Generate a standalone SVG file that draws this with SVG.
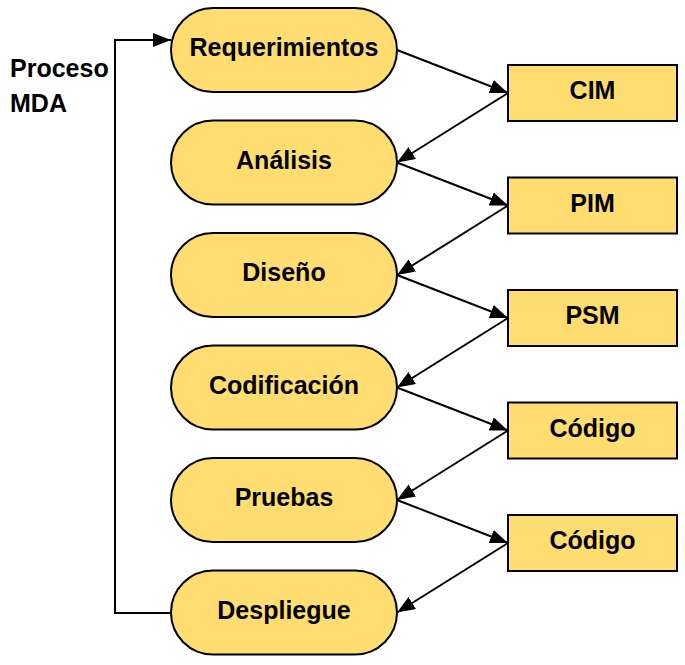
<svg xmlns="http://www.w3.org/2000/svg" width="685" height="665" viewBox="0 0 685 665">
<defs>
<style>
.st{fill:#ffdd71;stroke:#000;stroke-width:2}
.t{font-family:"Liberation Sans",Arial,sans-serif;font-weight:bold;font-size:25px;fill:#000;text-anchor:middle}
.lbl{font-family:"Liberation Sans",Arial,sans-serif;font-weight:bold;font-size:25px;fill:#000}
.c{fill:none;stroke:#000;stroke-width:2}
</style>
<marker id="ah" markerUnits="userSpaceOnUse" markerWidth="20" markerHeight="16" refX="18" refY="7" orient="auto">
<path d="M0,0 L18,7 L0,14 z" fill="#000"/>
</marker>
</defs>
<rect width="685" height="665" fill="#fff"/>
<text class="lbl" x="10" y="77">Proceso</text>
<text class="lbl" x="10" y="112">MDA</text>
<g id="connectors">
<path class="c" d="M171,613 H115 V40 H171" marker-end="url(#ah)"/>
<line class="c" x1="397" y1="50" x2="508" y2="93" marker-end="url(#ah)"/>
<line class="c" x1="508" y1="93" x2="397" y2="162.5" marker-end="url(#ah)"/>
<line class="c" x1="397" y1="162.5" x2="508" y2="205.5" marker-end="url(#ah)"/>
<line class="c" x1="508" y1="205.5" x2="397" y2="275" marker-end="url(#ah)"/>
<line class="c" x1="397" y1="275" x2="508" y2="318" marker-end="url(#ah)"/>
<line class="c" x1="508" y1="318" x2="397" y2="387.5" marker-end="url(#ah)"/>
<line class="c" x1="397" y1="387.5" x2="508" y2="430.5" marker-end="url(#ah)"/>
<line class="c" x1="508" y1="430.5" x2="397" y2="500" marker-end="url(#ah)"/>
<line class="c" x1="397" y1="500" x2="508" y2="543" marker-end="url(#ah)"/>
<line class="c" x1="508" y1="543" x2="397" y2="612.5" marker-end="url(#ah)"/>
</g>
<g id="n-requerimientos"><rect class="st" x="171" y="8" width="226" height="84" rx="42"/><text class="t" x="284" y="56">Requerimientos</text></g>
<g id="n-analisis"><rect class="st" x="171" y="120.5" width="226" height="84" rx="42"/><text class="t" x="284" y="168.5">Análisis</text></g>
<g id="n-diseno"><rect class="st" x="171" y="233" width="226" height="84" rx="42"/><text class="t" x="284" y="281">Diseño</text></g>
<g id="n-codificacion"><rect class="st" x="171" y="345.5" width="226" height="84" rx="42"/><text class="t" x="284" y="393.5">Codificación</text></g>
<g id="n-pruebas"><rect class="st" x="171" y="458" width="226" height="84" rx="42"/><text class="t" x="284" y="506">Pruebas</text></g>
<g id="n-despliegue"><rect class="st" x="171" y="570.5" width="226" height="84" rx="42"/><text class="t" x="284" y="618.5">Despliegue</text></g>
<g id="n-cim"><rect class="st" x="508" y="65" width="169" height="56"/><text class="t" x="592.5" y="99">CIM</text></g>
<g id="n-pim"><rect class="st" x="508" y="177.5" width="169" height="56"/><text class="t" x="592.5" y="211.5">PIM</text></g>
<g id="n-psm"><rect class="st" x="508" y="290" width="169" height="56"/><text class="t" x="592.5" y="324">PSM</text></g>
<g id="n-codigo1"><rect class="st" x="508" y="402.5" width="169" height="56"/><text class="t" x="592.5" y="436.5">Código</text></g>
<g id="n-codigo2"><rect class="st" x="508" y="515" width="169" height="56"/><text class="t" x="592.5" y="549">Código</text></g>
</svg>
